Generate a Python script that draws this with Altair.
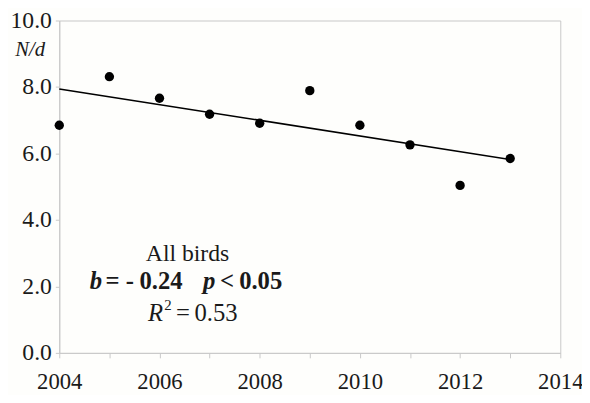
import altair as alt
import pandas as pd

years = [2004, 2005, 2006, 2007, 2008, 2009, 2010, 2011, 2012, 2013]
nd_values = [6.85, 8.31, 7.66, 7.18, 6.91, 7.89, 6.85, 6.26, 5.04, 5.85]

x_ticks = list(range(2004, 2015))
y_ticks = list(range(0, 11))

df = pd.DataFrame({"year": years, "nd": nd_values})
one = pd.DataFrame({"k": [0]})

SERIF = "Liberation Serif"
FS = 23
AFS = 25
INK = "#1a1a1a"
GRID = "#c8c8c8"

x_enc = alt.X("year:Q", scale=alt.Scale(domain=[2004, 2014], nice=False, zero=False),
              axis=alt.Axis(values=x_ticks, title=None, grid=False,
                            labelExpr="datum.value % 2 == 0 ? datum.value : ''",
                            labelFlush=False, labelFont=SERIF, labelFontSize=FS,
                            labelColor=INK, labelPadding=13, tickSize=5,
                            tickColor=GRID, domainColor=GRID))
y_enc = alt.Y("nd:Q", scale=alt.Scale(domain=[0, 10], nice=False),
              axis=alt.Axis(values=y_ticks, grid=False, title="N/d",
                            labelExpr="datum.value % 2 == 0 ? format(datum.value, '.1f') : ''",
                            labelFont=SERIF, labelFontSize=24, labelColor=INK,
                            labelPadding=4, tickSize=4, tickColor=GRID, domainColor=GRID,
                            titleAngle=0, titleFont=SERIF, titleFontSize=21,
                            titleFontStyle="italic", titleFontWeight="normal",
                            titleColor=INK, titleX=-30, titleY=29,
                            titleAlign="center", titleBaseline="middle"))

base = alt.Chart(df)

points = base.mark_circle(size=90, color="black", opacity=1).encode(x=x_enc, y=y_enc)

trend = base.transform_regression("year", "nd").mark_line(
    color="black", strokeWidth=1.6).encode(x="year:Q", y="nd:Q")


def label(text, x, y, align="center", weight="normal", style="normal", size=AFS):
    return alt.Chart(one).mark_text(
        text=text, align=align, baseline="alphabetic", font=SERIF, fontSize=size,
        fontWeight=weight, fontStyle=style, color=INK
    ).encode(x=alt.datum(x), y=alt.datum(y))


annotations = [
    label("All birds", 2006.56, 2.76, size=24),
    label("b", 2004.73, 1.93, weight="bold", style="italic"),
    label("=", 2005.06, 1.93, weight="bold"),
    label("-", 2005.41, 1.93, weight="bold"),
    label("0.24", 2006.03, 1.93, weight="bold"),
    label("p", 2006.99, 1.93, weight="bold", style="italic"),
    label("<", 2007.35, 1.93, weight="bold"),
    label("0.05", 2008.02, 1.93, weight="bold"),
    label("R", 2005.77, 0.95, align="left", style="italic"),
    label("2", 2006.17, 1.30, size=15),
    label("=", 2006.47, 0.95),
    label("0.53", 2007.13, 0.95),
]

chart = alt.layer(points, trend, *annotations).properties(
    width=508, height=337,
    autosize=alt.AutoSizeParams(type="none"),
    padding={"left": 52, "top": 10, "right": 22, "bottom": 40},
    background="#fefefc",
).configure_view(stroke=GRID, strokeWidth=1)

chart.save("out.html", embed_options={"renderer": "svg", "actions": False})
